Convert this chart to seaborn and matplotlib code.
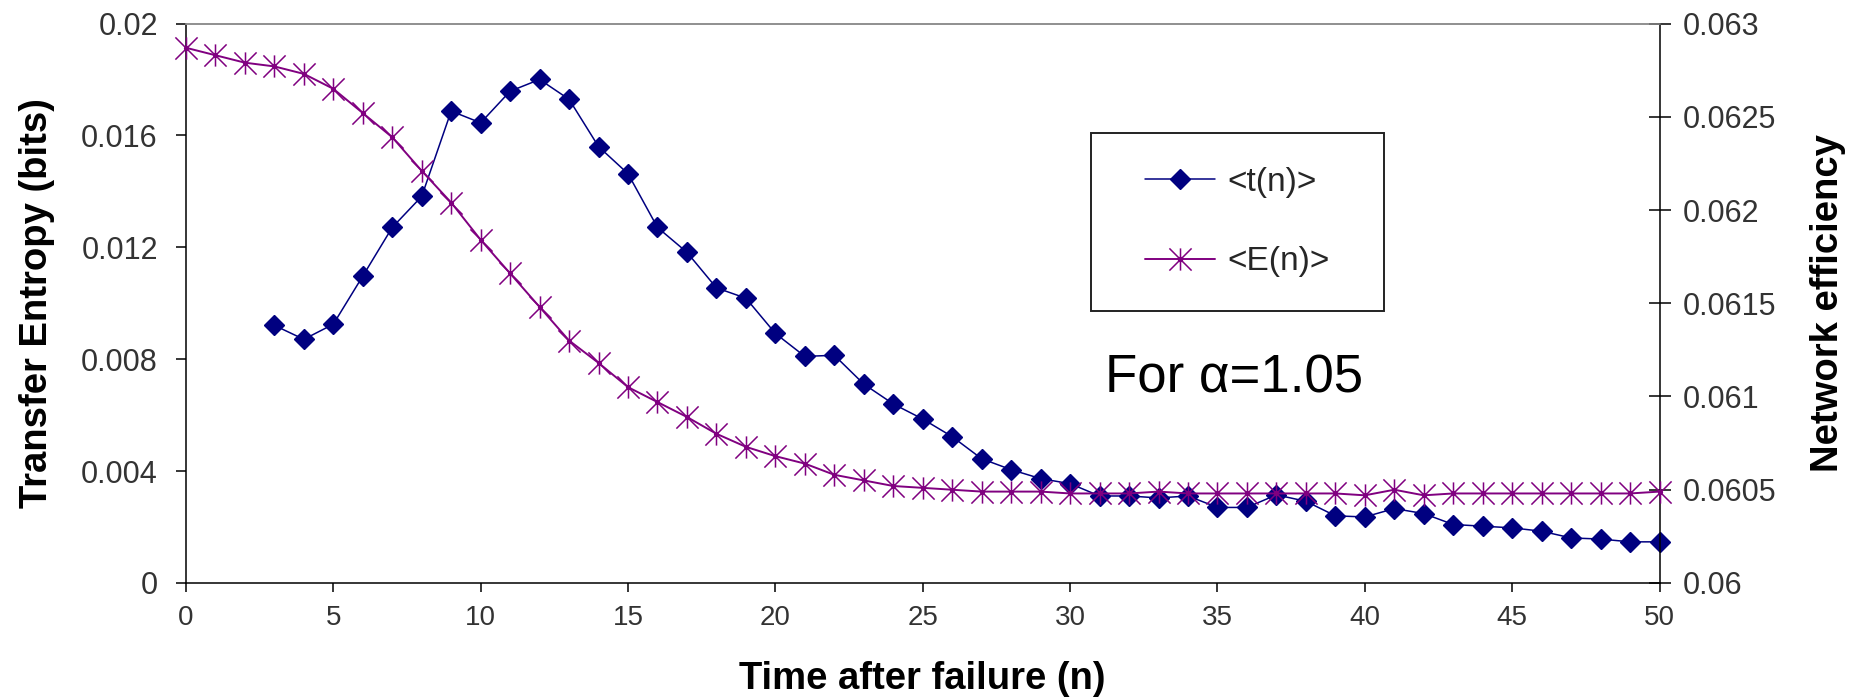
import numpy as np
import pandas as pd
import matplotlib
matplotlib.use("Agg")
import matplotlib.pyplot as plt
from matplotlib.path import Path
from matplotlib.lines import Line2D
from matplotlib.patches import Rectangle
import seaborn as sns

# ---- data -------------------------------------------------------------
steps_t = list(range(3, 51))
transfer_entropy = [
    0.00921, 0.00871, 0.00925, 0.01097, 0.01271, 0.01382, 0.01687, 0.01645,
    0.01758, 0.01800, 0.01729, 0.01560, 0.01463, 0.01271, 0.01182, 0.01055,
    0.01018, 0.00892, 0.00810, 0.00814, 0.00711, 0.00640, 0.00586, 0.00523,
    0.00444, 0.00405, 0.00373, 0.00355, 0.00311, 0.00311, 0.00304, 0.00311,
    0.00270, 0.00270, 0.00315, 0.00292, 0.00240, 0.00236, 0.00266, 0.00248,
    0.00209, 0.00203, 0.00197, 0.00185, 0.00161, 0.00157, 0.00147, 0.00147,
]

steps_e = list(range(0, 51))
efficiency = [
    0.06287, 0.06283, 0.06279, 0.06277, 0.06273, 0.06265, 0.06252, 0.06239,
    0.06221, 0.06204, 0.06184, 0.06166, 0.06148, 0.06130, 0.06118, 0.06105,
    0.06097, 0.06089, 0.06080, 0.06073, 0.06068, 0.06064, 0.06058, 0.06055,
    0.06052, 0.06051, 0.06050, 0.06049, 0.06049, 0.06049, 0.06048, 0.06048,
    0.06048, 0.06049, 0.06048, 0.06048, 0.06048, 0.06048, 0.06048, 0.06048,
    0.06047, 0.06050, 0.06047, 0.06048, 0.06048, 0.06048, 0.06048, 0.06048,
    0.06048, 0.06048, 0.06049,
]

x_ticks = list(range(0, 51, 5))
left_ticks = [0, 0.004, 0.008, 0.012, 0.016, 0.02]
left_tick_labels = ["0", "0.004", "0.008", "0.012", "0.016", "0.02"]
right_ticks = [0.06, 0.0605, 0.061, 0.0615, 0.062, 0.0625, 0.063]
right_tick_labels = ["0.06", "0.0605", "0.061", "0.0615", "0.062", "0.0625", "0.063"]

series_labels = ["<t(n)>", "<E(n)>"]
note_text = "For \u03b1=1.05"

# ---- style ------------------------------------------------------------
sns.set_theme(style="white")
plt.rcParams["font.family"] = ["Liberation Sans", "DejaVu Sans"]

NAVY = "#000080"
PURPLE = "#800080"
TICK_COLOR = "#333333"
TICK_FONT = ["Liberation Sans", "DejaVu Sans"]
XTICK_FONT = ["Liberation Sans Narrow", "Liberation Sans", "DejaVu Sans"]
LEGEND_FONT = ["Liberation Sans", "DejaVu Sans"]

# Excel-style asterisk: vertical bar plus an X
star = Path(
    [(0, -1), (0, 1), (-1, -1), (1, 1), (-1, 1), (1, -1)],
    [Path.MOVETO, Path.LINETO, Path.MOVETO, Path.LINETO, Path.MOVETO, Path.LINETO],
)

fig = plt.figure(figsize=(18.63, 6.98), dpi=100)
ax = fig.add_axes([0.0998, 0.1648, 0.7910, 0.8015])
ax2 = ax.twinx()

df_t = pd.DataFrame({"n": steps_t, "t": transfer_entropy})
df_e = pd.DataFrame({"n": steps_e, "E": efficiency})

sns.lineplot(data=df_t, x="n", y="t", ax=ax, color=NAVY, linewidth=1.1,
             marker="D", markersize=10.5, markeredgewidth=1.0,
             markeredgecolor=NAVY, markerfacecolor=NAVY,
             legend=False, clip_on=False, zorder=3)

sns.lineplot(data=df_e, x="n", y="E", ax=ax2, color=PURPLE, linewidth=1.4,
             marker=star, markersize=16, markeredgewidth=1.1,
             markeredgecolor=PURPLE, legend=False, clip_on=False, zorder=3)
sns.scatterplot(data=df_e, x="n", y="E", ax=ax2, color=PURPLE, s=14,
                linewidth=0, legend=False, clip_on=False, zorder=4)

# ---- axes -------------------------------------------------------------
ax.set_xlim(0, 50)
ax.set_ylim(0, 0.02)
ax2.set_ylim(0.06, 0.063)
ax.set_xticks(x_ticks)
ax.set_xticklabels([str(v) for v in x_ticks], family=XTICK_FONT,
                   fontsize=20, color=TICK_COLOR)
ax.set_yticks(left_ticks)
ax.set_yticklabels(left_tick_labels, family=TICK_FONT, fontsize=22,
                   color=TICK_COLOR)
ax2.set_yticks(right_ticks)
ax2.set_yticklabels(right_tick_labels, family=TICK_FONT, fontsize=22,
                    color=TICK_COLOR)

ax.tick_params(axis="x", direction="out", length=6.5, width=1.1, pad=9.5,
               color="black", bottom=True)
ax.tick_params(axis="y", direction="out", length=7.2, width=1.1, pad=13,
               color="black", left=True)
ax2.tick_params(axis="y", direction="inout", length=16, width=1.1, pad=9,
                color="black", right=True)

for a in (ax, ax2):
    for side in ("left", "bottom", "right"):
        a.spines[side].set_color("black")
        a.spines[side].set_linewidth(1.1)
    a.spines["top"].set_color("#8c8c8c")
    a.spines["top"].set_linewidth(1.1)
    a.grid(False)
ax.spines["right"].set_visible(False)
ax2.spines["left"].set_visible(False)
ax2.spines["bottom"].set_visible(False)

ax.set_xlabel("Time after failure (n)", fontsize=27.5, fontweight="bold",
              color="black")
ax.set_ylabel("Transfer Entropy (bits)", fontsize=27.5, fontweight="bold",
              color="black")
ax2.set_ylabel("Network efficiency", fontsize=27.5, fontweight="bold",
               color="black")
ax.xaxis.set_label_coords(0.5, -0.140)
ax.yaxis.set_label_coords(-0.089, 0.5)
ax2.yaxis.set_label_coords(1.102, 0.5)

ax.text(31.2, 0.0068, note_text, fontsize=38, color="black",
        va="baseline", ha="left")

# ---- legend -----------------------------------------------------------
box = Rectangle((0.6142, 0.4861), 0.8130 - 0.6142, 0.8043 - 0.4861,
                transform=ax.transAxes, fill=True, facecolor="white",
                edgecolor="#222222", linewidth=1.4, zorder=5)
ax2.add_patch(box)

h_t = Line2D([], [], color=NAVY, linewidth=1.1, marker="D", markersize=10.5,
             markeredgewidth=1.0, markeredgecolor=NAVY, markerfacecolor=NAVY)
h_e = Line2D([], [], color=PURPLE, linewidth=1.4, marker=star,
             markersize=16, markeredgewidth=1.1, markeredgecolor=PURPLE)
h_dot = Line2D([], [], linestyle="none", marker="o", markersize=4,
               color=PURPLE, markeredgewidth=0)
leg = ax2.legend([h_t, (h_e, h_dot)], series_labels, loc="center",
                 bbox_to_anchor=(0.7136, 0.6452), bbox_transform=ax.transAxes,
                 frameon=False, prop={"family": LEGEND_FONT, "size": 24},
                 handlelength=2.1, handletextpad=0.35, labelspacing=1.45,
                 borderpad=0)
leg.set_zorder(6)

fig.savefig("out.png", dpi=100, facecolor="white")
